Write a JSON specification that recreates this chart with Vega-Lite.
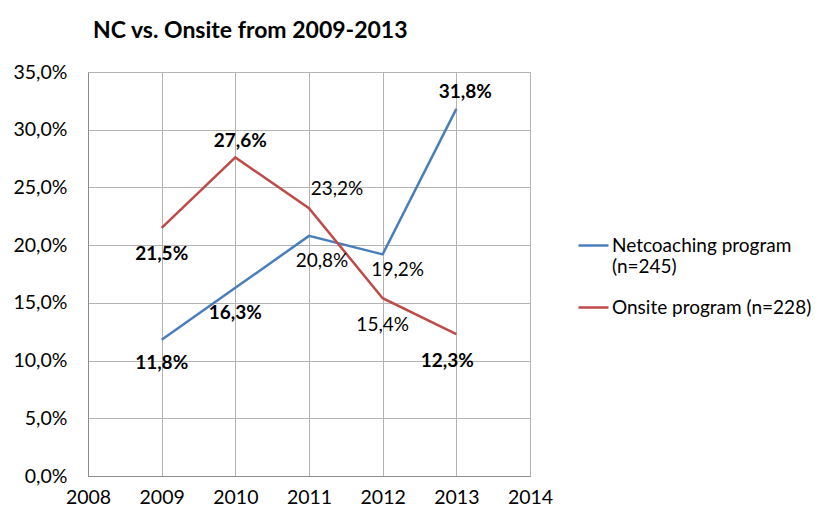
{
  "$schema": "https://vega.github.io/schema/vega-lite/v6.json",
  "width": 442,
  "height": 404,
  "autosize": {"type": "none"},
  "padding": {"left": 88, "top": 72, "right": 303, "bottom": 48},
  "background": "white",
  "config": {
    "locale": {"number": {"decimal": ",", "thousands": ".", "grouping": [3], "currency": ["", "€"]}},
    "font": "Lato",
    "view": {"stroke": "#b3b3b3", "strokeWidth": 1},
    "axis": {"gridColor": "#b3b3b3", "gridOpacity": 1, "domainColor": "#8c8c8c", "labelFont": "Lato", "labelFontSize": 19.5, "labelColor": "#000000", "ticks": false, "title": null}
  },
  "title": {"text": "NC vs. Onsite from 2009-2013", "anchor": "start", "frame": "group", "dx": 5, "offset": 19, "font": "Lato", "fontSize": 23, "fontWeight": "bold", "color": "#000000"},
  "data": {"values": [
    {"series": "Netcoaching program (n=245)", "year": 2009, "value": 0.118},
    {"series": "Netcoaching program (n=245)", "year": 2010, "value": 0.163},
    {"series": "Netcoaching program (n=245)", "year": 2011, "value": 0.208},
    {"series": "Netcoaching program (n=245)", "year": 2012, "value": 0.192},
    {"series": "Netcoaching program (n=245)", "year": 2013, "value": 0.318},
    {"series": "Onsite program (n=228)", "year": 2009, "value": 0.215},
    {"series": "Onsite program (n=228)", "year": 2010, "value": 0.276},
    {"series": "Onsite program (n=228)", "year": 2011, "value": 0.232},
    {"series": "Onsite program (n=228)", "year": 2012, "value": 0.154},
    {"series": "Onsite program (n=228)", "year": 2013, "value": 0.123}
  ]},
  "encoding": {
    "x": {"field": "year", "type": "quantitative", "scale": {"domain": [2008, 2014], "nice": false, "zero": false},
          "axis": {"values": [2008, 2009, 2010, 2011, 2012, 2013, 2014], "format": "d", "labelPadding": 12, "grid": true, "labelFlush": false}},
    "y": {"field": "value", "type": "quantitative", "scale": {"domain": [0, 0.35], "nice": false},
          "axis": {"values": [0, 0.05, 0.1, 0.15, 0.2, 0.25, 0.3, 0.35], "format": ".1%", "labelPadding": 21, "grid": true}}
  },
  "layer": [
    {
      "mark": {"type": "line", "strokeWidth": 2.5},
      "encoding": {
        "color": {"field": "series", "type": "nominal",
          "scale": {"domain": ["Netcoaching program (n=245)", "Onsite program (n=228)"], "range": ["#4a7ebb", "#be4b48"]},
          "legend": {"orient": "none", "legendX": 489, "legendY": 157, "title": null, "symbolType": "stroke", "symbolSize": 900, "symbolStrokeWidth": 2.5,
                     "labelFont": "Lato", "labelFontSize": 19, "labelColor": "#000000", "labelOffset": 2, "rowPadding": 14, "labelLimit": 400, "labelLineHeight": 26,
                     "labelExpr": "datum.label == 'Netcoaching program (n=245)' ? ['Netcoaching program', '(n=245)'] : datum.label"}
        }
      }
    },
    {"transform": [{"filter": "datum.series == 'Netcoaching program (n=245)' && datum.year == 2009"}],
     "mark": {"type": "text", "dy": 23, "fontWeight": "bold", "fontSize": 19, "color": "#000000"},
     "encoding": {"text": {"field": "value", "type": "quantitative", "format": ".1%"}}},
    {"transform": [{"filter": "datum.series == 'Netcoaching program (n=245)' && datum.year == 2010"}],
     "mark": {"type": "text", "dy": 25, "fontWeight": "bold", "fontSize": 19, "color": "#000000"},
     "encoding": {"text": {"field": "value", "type": "quantitative", "format": ".1%"}}},
    {"transform": [{"filter": "datum.series == 'Netcoaching program (n=245)' && datum.year == 2011"}],
     "mark": {"type": "text", "dx": 13, "dy": 25, "fontWeight": "normal", "fontSize": 19, "color": "#000000"},
     "encoding": {"text": {"field": "value", "type": "quantitative", "format": ".1%"}}},
    {"transform": [{"filter": "datum.series == 'Netcoaching program (n=245)' && datum.year == 2012"}],
     "mark": {"type": "text", "dx": 15, "dy": 16, "fontWeight": "normal", "fontSize": 19, "color": "#000000"},
     "encoding": {"text": {"field": "value", "type": "quantitative", "format": ".1%"}}},
    {"transform": [{"filter": "datum.series == 'Netcoaching program (n=245)' && datum.year == 2013"}],
     "mark": {"type": "text", "dx": 9, "dy": -17, "fontWeight": "bold", "fontSize": 19, "color": "#000000"},
     "encoding": {"text": {"field": "value", "type": "quantitative", "format": ".1%"}}},
    {"transform": [{"filter": "datum.series == 'Onsite program (n=228)' && datum.year == 2009"}],
     "mark": {"type": "text", "dy": 26, "fontWeight": "bold", "fontSize": 19, "color": "#000000"},
     "encoding": {"text": {"field": "value", "type": "quantitative", "format": ".1%"}}},
    {"transform": [{"filter": "datum.series == 'Onsite program (n=228)' && datum.year == 2010"}],
     "mark": {"type": "text", "dx": 5, "dy": -16, "fontWeight": "bold", "fontSize": 19, "color": "#000000"},
     "encoding": {"text": {"field": "value", "type": "quantitative", "format": ".1%"}}},
    {"transform": [{"filter": "datum.series == 'Onsite program (n=228)' && datum.year == 2011"}],
     "mark": {"type": "text", "dx": 28, "dy": -19, "fontWeight": "normal", "fontSize": 19, "color": "#000000"},
     "encoding": {"text": {"field": "value", "type": "quantitative", "format": ".1%"}}},
    {"transform": [{"filter": "datum.series == 'Onsite program (n=228)' && datum.year == 2012"}],
     "mark": {"type": "text", "dy": 27, "fontWeight": "normal", "fontSize": 19, "color": "#000000"},
     "encoding": {"text": {"field": "value", "type": "quantitative", "format": ".1%"}}},
    {"transform": [{"filter": "datum.series == 'Onsite program (n=228)' && datum.year == 2013"}],
     "mark": {"type": "text", "dx": -9, "dy": 27, "fontWeight": "bold", "fontSize": 19, "color": "#000000"},
     "encoding": {"text": {"field": "value", "type": "quantitative", "format": ".1%"}}}
  ]
}
